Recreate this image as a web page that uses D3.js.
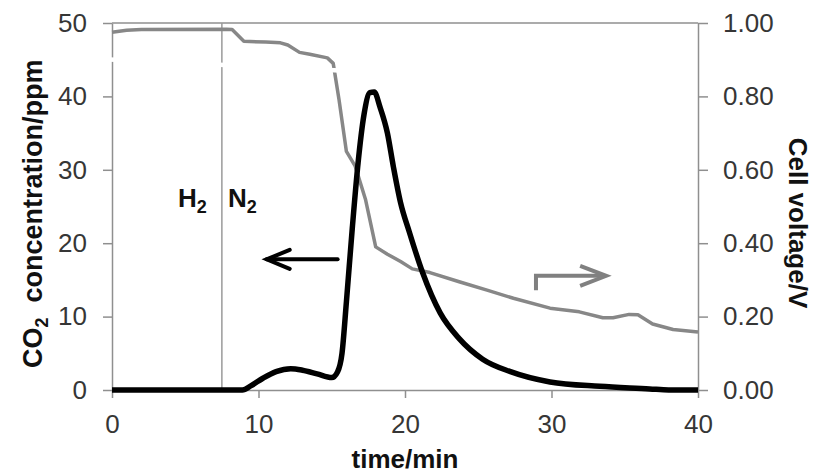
<!DOCTYPE html>
<html><head><meta charset="utf-8">
<script src="https://cdn.jsdelivr.net/npm/d3@7"></script>
<style>
html,body{margin:0;padding:0;background:#fff;}
svg{display:block;font-family:"Liberation Sans",Arial,sans-serif;}
</style></head>
<body>
<svg id="chart" width="813" height="475"></svg>
<script>
// ---- data ----
const xTicks = [0, 10, 20, 30, 40];
const leftTicks = [0, 10, 20, 30, 40, 50];
const rightTicks = [0, 0.2, 0.4, 0.6, 0.8, 1.0];

// CO2 concentration (ppm), left axis
const co2Time = [0, 8.9, 9.5, 10.3, 11.2, 12.2, 13.0, 14.0, 15.0, 15.4, 15.7, 16.0, 16.4, 16.8, 17.2, 17.6, 17.9, 18.3, 18.8, 19.2, 19.7, 20.3, 21.2, 22.4, 23.7, 25.3, 27.2, 29.9, 33.3, 36.7, 38.0, 40];
const co2Value = [0, 0, 0.6, 1.6, 2.5, 2.9, 2.7, 2.2, 1.7, 2.5, 5, 12, 22, 31, 37.5, 40.5, 40.6, 38.5, 35, 30.5, 25.5, 21.5, 16, 10.5, 7, 4.2, 2.5, 1.1, 0.5, 0.15, 0, 0];

// Cell voltage (V), right axis
const vTime = [0, 1, 2, 7.8, 8.2, 9.0, 10.5, 11.5, 12.0, 12.8, 13.5, 14.7, 15.1, 15.5, 16.0, 16.6, 17.3, 18.0, 18.8, 19.7, 20.5, 21.7, 23.7, 25.6, 27.4, 29.9, 31.9, 33.5, 34.2, 35.3, 35.9, 36.9, 38.3, 40];
const vValue = [0.975, 0.98, 0.982, 0.983, 0.982, 0.95, 0.948, 0.946, 0.94, 0.92, 0.915, 0.905, 0.89, 0.79, 0.65, 0.61, 0.52, 0.39, 0.37, 0.35, 0.33, 0.32, 0.295, 0.272, 0.25, 0.223, 0.213, 0.197, 0.197, 0.206, 0.205, 0.18, 0.165, 0.158];

// annotations
const gasSwitchTime = 7.5;
const gasLabels = ["H", "N"];
const co2Arrow = {from: 15.4, to: 10.56, y: 17.8};        // time, ppm
const vArrow = {x: 28.94, to: 33.73, y: 0.311, y0: 0.272}; // time, V

// ---- drawing ----
const svg = d3.select("#chart");
const L = 112, R = 698, T = 23, B = 390;
const x = d3.scaleLinear().domain([0, 40]).range([L, R]);
const yL = d3.scaleLinear().domain([0, 50]).range([B, T]);
const yR = d3.scaleLinear().domain([0, 1]).range([B, T]);

const axisColor = "#8f8f8f";
const tickText = "#363636";

// top border
svg.append("line").attr("x1", L).attr("x2", R).attr("y1", T).attr("y2", T)
  .attr("stroke", axisColor).attr("stroke-width", 1.5);

// gas switch line
svg.append("line").attr("x1", x(gasSwitchTime)).attr("x2", x(gasSwitchTime))
  .attr("y1", T).attr("y2", B).attr("stroke", "#9a9a9a").attr("stroke-width", 1.5);

function styleAxis(g) {
  g.selectAll(".domain").attr("stroke", axisColor).attr("stroke-width", 1.5);
  g.selectAll(".tick line").attr("stroke", axisColor).attr("stroke-width", 1.5);
  g.selectAll(".tick text").attr("fill", tickText).style("font-size", "26px");
  g.attr("font-family", null);
}

const gx = svg.append("g").attr("transform", `translate(0,${B})`)
  .call(d3.axisBottom(x).tickValues(xTicks).tickSize(8).tickSizeOuter(0).tickPadding(17).tickFormat(d3.format("d")));
styleAxis(gx);

const gl = svg.append("g").attr("transform", `translate(${L},0)`)
  .call(d3.axisLeft(yL).tickValues(leftTicks).tickSize(9).tickSizeOuter(0).tickPadding(16).tickFormat(d3.format("d")));
styleAxis(gl);

const gr = svg.append("g").attr("transform", `translate(${R},0)`)
  .call(d3.axisRight(yR).tickValues(rightTicks).tickSize(10).tickSizeOuter(0).tickPadding(15).tickFormat(d3.format(".2f")));
styleAxis(gr);

// voltage line
const vData = vTime.map((t, i) => [t, vValue[i]]);
svg.append("path").datum(vData)
  .attr("fill", "none").attr("stroke", "#878787").attr("stroke-width", 3.5)
  .attr("stroke-linejoin", "round")
  .attr("d", d3.line().x(d => x(d[0])).y(d => yR(d[1])));

// CO2 line
const cData = co2Time.map((t, i) => [t, co2Value[i]]);
svg.append("path").datum(cData)
  .attr("fill", "none").attr("stroke", "#000").attr("stroke-width", 5.5)
  .attr("stroke-linejoin", "round")
  .attr("d", d3.line().curve(d3.curveMonotoneX).x(d => x(d[0])).y(d => yL(d[1])));

// black arrow (points left)
{
  const x1 = x(co2Arrow.from), x2 = x(co2Arrow.to), yy = yL(co2Arrow.y);
  const g = svg.append("g").attr("stroke", "#000").attr("stroke-width", 4).attr("fill", "none").attr("stroke-linecap", "round");
  g.append("line").attr("x1", x1).attr("x2", x2).attr("y1", yy).attr("y2", yy);
  g.append("path").attr("d", `M${x2 + 23},${yy - 9.5}L${x2},${yy}L${x2 + 23},${yy + 9.5}`);
}
// gray arrow (points right)
{
  const x1 = x(vArrow.x), x2 = x(vArrow.to), yy = yR(vArrow.y), y0 = yR(vArrow.y0);
  const g = svg.append("g").attr("stroke", "#808080").attr("stroke-width", 4).attr("fill", "none");
  g.append("path").attr("d", `M${x1},${y0}L${x1},${yy}L${x2 - 3},${yy}`);
  g.append("path").attr("d", `M${x2 - 26},${yy - 10}L${x2},${yy}L${x2 - 26},${yy + 10}`).attr("stroke-linejoin", "miter");
}

// gas labels
const gasX = [x(gasSwitchTime) - 44, x(gasSwitchTime) + 6];
gasLabels.forEach((lab, i) => {
  const t = svg.append("text").attr("x", gasX[i]).attr("y", 207)
    .attr("font-weight", "bold").attr("font-size", 26).attr("fill", "#111");
  t.append("tspan").text(lab);
  t.append("tspan").attr("font-size", 18).attr("dy", 6).text("2");
});

// white scan artifact band
svg.append("path")
  .attr("d", "M0,52L345,68.5L345,73L0,56.5Z")
  .attr("fill", "#fff");

// axis titles
{
  const t = svg.append("text").attr("transform", "translate(42,368) rotate(-90)")
    .attr("font-weight", "bold").attr("font-size", 27).attr("fill", "#111")
    .style("white-space", "pre");
  t.append("tspan").text("CO");
  t.append("tspan").attr("font-size", 18).attr("dy", 6).text("2");
  t.append("tspan").attr("dy", -6).text("  concentration/ppm");
}
svg.append("text").attr("transform", "translate(789,223) rotate(90)")
  .attr("text-anchor", "middle").attr("font-weight", "bold").attr("font-size", 26).attr("fill", "#111")
  .text("Cell voltage/V");
svg.append("text").attr("x", x(20)).attr("y", 468).attr("text-anchor", "middle")
  .attr("font-weight", "bold").attr("font-size", 26).attr("fill", "#111")
  .text("time/min");
</script>
</body></html>
